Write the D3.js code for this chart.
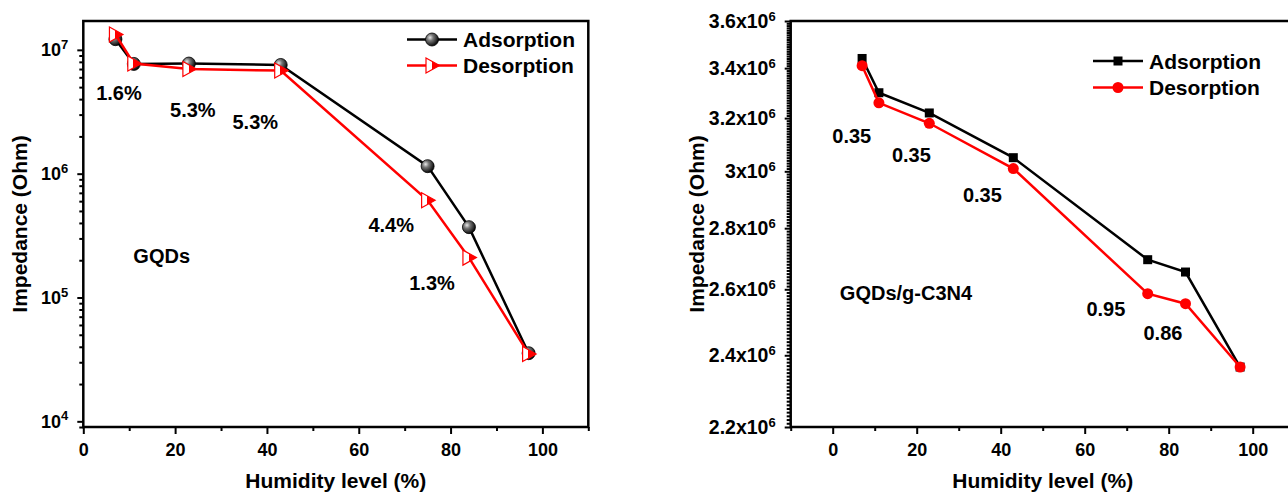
<!DOCTYPE html>
<html>
<head>
<meta charset="utf-8">
<script src="https://cdn.jsdelivr.net/npm/d3@7"></script>
<style>
  body { margin: 0; background: #fff; }
  svg { display: block; font-family: "Liberation Sans", Arial, sans-serif; font-weight: bold; }
</style>
</head>
<body>
<div id="chart"></div>
<script>
// relative humidity steps (%)
var humidity = [7, 11, 23, 43, 75, 84, 97];

// GQDs impedance (Ohm)
var gqdsAdsorption = [1.22e7, 7.7e6, 7.75e6, 7.55e6, 1.15e6, 3.7e5, 3.55e4];
var gqdsDesorption = [1.33e7, 7.75e6, 7.0e6, 6.8e6, 6.1e5, 2.1e5, 3.5e4];

// GQDs/g-C3N4 impedance (Ohm)
var compAdsorption = [3.44e6, 3.30e6, 3.22e6, 3.05e6, 2.695e6, 2.655e6, 2.366e6];
var compDesorption = [3.41e6, 3.26e6, 3.18e6, 3.01e6, 2.586e6, 2.555e6, 2.366e6];

var seriesNames = ["Adsorption", "Desorption"];
var xTicks = [0, 20, 40, 60, 80, 100];
var gqdsYTicks = [1e4, 1e5, 1e6, 1e7];
var compYTicks = [2.2e6, 2.4e6, 2.6e6, 2.8e6, 3.0e6, 3.2e6, 3.4e6, 3.6e6];

// hysteresis notes, placed in data coordinates
var gqdsNoteText = ["1.6%", "5.3%", "5.3%", "4.4%", "1.3%", "GQDs"];
var gqdsNoteX = [2.8, 18.9, 32.5, 62.1, 71.0, 10.9];
var gqdsNoteY = [3.9e6, 2.85e6, 2.3e6, 3.4e5, 1.15e5, 1.9e5];

var compNoteText = ["0.35", "0.35", "0.35", "0.95", "0.86", "GQDs/g-C3N4"];
var compNoteX = [-0.1, 14.1, 31.0, 60.4, 74.0, 1.7];
var compNoteY = [3.106e6, 3.035e6, 2.889e6, 2.516e6, 2.444e6, 2.566e6];

var svg = d3.select("#chart").append("svg")
  .attr("width", 1288)
  .attr("height", 495);

var defs = svg.append("defs");
var sphere = defs.append("radialGradient").attr("id", "sphere")
  .attr("cx", 0.35).attr("cy", 0.35).attr("r", 0.7);
sphere.append("stop").attr("offset", 0).attr("stop-color", "#e8e8e8");
sphere.append("stop").attr("offset", 0.35).attr("stop-color", "#777");
sphere.append("stop").attr("offset", 1).attr("stop-color", "#000");

var half = defs.append("linearGradient").attr("id", "half")
  .attr("x1", 0).attr("x2", 1).attr("y1", 0).attr("y2", 0);
half.append("stop").attr("offset", 0).attr("stop-color", "#fff");
half.append("stop").attr("offset", 0.42).attr("stop-color", "#fff");
half.append("stop").attr("offset", 0.42).attr("stop-color", "#f00");
half.append("stop").attr("offset", 1).attr("stop-color", "#f00");

var triPath = "M-6,-7.5L7.5,0L-6,7.5Z";

function drawMarker(sel, kind) {
  if (kind == "sphere") {
    sel.append("circle").attr("r", 6.5).attr("fill", "url(#sphere)").attr("stroke", "#000").attr("stroke-width", 0.8);
  } else if (kind == "tri") {
    sel.append("path").attr("d", triPath).attr("fill", "url(#half)").attr("stroke", "#f00").attr("stroke-width", 1.2);
  } else if (kind == "square") {
    sel.append("rect").attr("x", -4.5).attr("y", -4.5).attr("width", 9).attr("height", 9).attr("fill", "#000");
  } else {
    sel.append("circle").attr("r", 5.5).attr("fill", "#f00");
  }
}

function panel(o) {
  var g = svg.append("g");

  var x = d3.scaleLinear().domain(o.xDomain).range([o.left, o.right]);
  var y = d3.scaleLog().domain(o.yDomain).range([o.bottom, o.top]);

  // x axis: majors + minors
  var xMinor = d3.range(o.xDomain[0], o.xDomain[1] + 1, 10).filter(d => xTicks.indexOf(d) < 0);
  g.append("g").attr("transform", `translate(0,${o.bottom})`)
    .call(d3.axisBottom(x).tickValues(xMinor).tickSize(4).tickFormat(""));
  g.append("g").attr("class", "xmaj").attr("transform", `translate(0,${o.bottom})`)
    .call(d3.axisBottom(x).tickValues(xTicks).tickSize(7).tickPadding(9));

  // y axis: majors + minors
  g.append("g").attr("transform", `translate(${o.left},0)`)
    .call(d3.axisLeft(y).tickValues(o.yMinor).tickSize(4).tickFormat(""));
  var ya = g.append("g").attr("class", "ymaj").attr("transform", `translate(${o.left},0)`)
    .call(d3.axisLeft(y).tickValues(o.yTicks).tickSize(6).tickPadding(9).tickFormat(""));

  g.selectAll(".domain").remove();
  g.selectAll(".tick line").attr("stroke", "#000").attr("stroke-width", 2);
  g.selectAll(".tick text").attr("font-size", 18).attr("fill", "#000")
    .attr("font-family", "'Liberation Sans', Arial, sans-serif");

  ya.selectAll(".tick text").attr("font-size", o.yFont).each(function(d) {
    var t = d3.select(this);
    var p = o.label(d);
    t.append("tspan").text(p[0]);
    t.append("tspan").attr("dy", "-0.55em").attr("font-size", 13).text(p[1]);
  });

  // frame
  g.append("rect")
    .attr("x", o.left).attr("y", o.top)
    .attr("width", o.right - o.left).attr("height", o.bottom - o.top)
    .attr("fill", "none").attr("stroke", "#000").attr("stroke-width", 2.5);

  // titles
  g.append("text")
    .attr("x", (o.left + o.right) / 2).attr("y", 488)
    .attr("text-anchor", "middle").attr("font-size", 21)
    .text("Humidity level (%)");
  g.append("text")
    .attr("transform", `translate(${o.yTitleX},${(o.top + o.bottom) / 2}) rotate(-90)`)
    .attr("text-anchor", "middle").attr("font-size", 21)
    .text("Impedance (Ohm)");

  // series
  var line = d3.line().x(d => x(d[0])).y(d => y(d[1]));
  o.series.forEach(function(s) {
    var pts = humidity.map((h, i) => [h, s.values[i]]);
    g.append("path").datum(pts)
      .attr("d", line).attr("fill", "none")
      .attr("stroke", s.color).attr("stroke-width", 2.5);
    var m = g.selectAll(null).data(pts).enter().append("g")
      .attr("transform", d => `translate(${x(d[0])},${y(d[1])})`);
    drawMarker(m, s.marker);
  });

  // legend
  o.series.forEach(function(s, i) {
    var ly = o.legendY + i * o.legendGap;
    g.append("line")
      .attr("x1", o.legendX).attr("x2", o.legendX + 50)
      .attr("y1", ly).attr("y2", ly)
      .attr("stroke", s.color).attr("stroke-width", 2.5);
    drawMarker(g.append("g").attr("transform", `translate(${o.legendX + 25},${ly})`), s.marker);
    g.append("text")
      .attr("x", o.legendX + 56).attr("y", ly + 7.5)
      .attr("font-size", 21)
      .text(seriesNames[i]);
  });

  // notes
  o.notes.text.forEach(function(t, i) {
    g.append("text")
      .attr("x", x(o.notes.x[i])).attr("y", y(o.notes.y[i]))
      .attr("font-size", 20)
      .text(t);
  });
}

var gqdsMinor = [];
[1e3, 1e4, 1e5, 1e6, 1e7].forEach(function(dec) {
  for (var k = 2; k <= 9; k++) {
    var v = k * dec;
    if (v >= 9000 && v <= 1.71e7) gqdsMinor.push(v);
  }
});

var compMinor = d3.range(220, 361, 1).map(d => d * 1e4)
  .filter(d => d % 2e5 != 0);

panel({
  left: 83.3, right: 588.3, top: 21, bottom: 427,
  xDomain: [0, 110], yDomain: [9000, 1.71e7],
  yTicks: gqdsYTicks, yMinor: gqdsMinor, yFont: 18,
  label: d => ["10", Math.round(Math.log10(d))],
  yTitleX: 27,
  series: [
    { values: gqdsAdsorption, color: "#000", marker: "sphere" },
    { values: gqdsDesorption, color: "#f00", marker: "tri" }
  ],
  legendX: 407, legendY: 39.5, legendGap: 26,
  notes: { text: gqdsNoteText, x: gqdsNoteX, y: gqdsNoteY }
});

panel({
  left: 790.7, right: 1294.7, top: 21, bottom: 427,
  xDomain: [-10, 110], yDomain: [2.2e6, 3.6e6],
  yTicks: compYTicks, yMinor: compMinor, yFont: 19.5,
  label: d => [String(+(d / 1e6).toFixed(1)) + "x10", 6],
  yTitleX: 704,
  series: [
    { values: compAdsorption, color: "#000", marker: "square" },
    { values: compDesorption, color: "#f00", marker: "dot" }
  ],
  legendX: 1093, legendY: 61, legendGap: 26.5,
  notes: { text: compNoteText, x: compNoteX, y: compNoteY }
});
</script>
</body>
</html>
